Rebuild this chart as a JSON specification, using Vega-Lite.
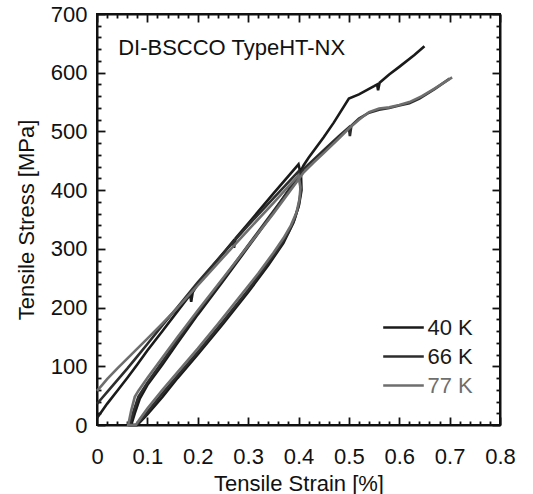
{
  "$schema": "https://vega.github.io/schema/vega-lite/v6.json",
  "width": 403,
  "height": 411,
  "autosize": {"type": "none"},
  "padding": {"left": 97, "top": 14, "right": 33, "bottom": 69},
  "background": "white",
  "config": {
    "font": "Liberation Sans",
    "view": {"stroke": "#111", "strokeWidth": 2},
    "axis": {"grid": false, "ticks": true, "labelFont": "Liberation Sans", "titleFont": "Liberation Sans", "labelFontSize": 22, "titleFontSize": 22, "titleFontWeight": "normal", "labelColor": "#111", "titleColor": "#111", "domainColor": "#111", "domainWidth": 2, "tickColor": "#111", "tickWidth": 1.8, "tickOpacity": 1, "labelFlush": false, "labelOverlap": false}
  },
  "data": {
    "values": [
      {"T": "40 K", "i": 1, "strain": 0, "stress": 12},
      {"T": "40 K", "i": 2, "strain": 0.01, "stress": 24},
      {"T": "40 K", "i": 3, "strain": 0.02, "stress": 36},
      {"T": "40 K", "i": 4, "strain": 0.04, "stress": 58},
      {"T": "40 K", "i": 5, "strain": 0.06, "stress": 80},
      {"T": "40 K", "i": 6, "strain": 0.08, "stress": 103},
      {"T": "40 K", "i": 7, "strain": 0.1, "stress": 127},
      {"T": "40 K", "i": 8, "strain": 0.13, "stress": 160},
      {"T": "40 K", "i": 9, "strain": 0.16, "stress": 194},
      {"T": "40 K", "i": 10, "strain": 0.185, "stress": 222},
      {"T": "40 K", "i": 11, "strain": 0.187, "stress": 210},
      {"T": "40 K", "i": 12, "strain": 0.19, "stress": 226},
      {"T": "40 K", "i": 13, "strain": 0.2, "stress": 240},
      {"T": "40 K", "i": 14, "strain": 0.25, "stress": 292},
      {"T": "40 K", "i": 15, "strain": 0.27, "stress": 313},
      {"T": "40 K", "i": 16, "strain": 0.272, "stress": 302},
      {"T": "40 K", "i": 17, "strain": 0.275, "stress": 318},
      {"T": "40 K", "i": 18, "strain": 0.3, "stress": 343},
      {"T": "40 K", "i": 19, "strain": 0.35, "stress": 394},
      {"T": "40 K", "i": 20, "strain": 0.4, "stress": 444},
      {"T": "40 K", "i": 21, "strain": 0.405, "stress": 425},
      {"T": "40 K", "i": 22, "strain": 0.406, "stress": 400},
      {"T": "40 K", "i": 23, "strain": 0.401, "stress": 375},
      {"T": "40 K", "i": 24, "strain": 0.39, "stress": 345},
      {"T": "40 K", "i": 25, "strain": 0.37, "stress": 310},
      {"T": "40 K", "i": 26, "strain": 0.34, "stress": 272},
      {"T": "40 K", "i": 27, "strain": 0.3, "stress": 226},
      {"T": "40 K", "i": 28, "strain": 0.25, "stress": 172},
      {"T": "40 K", "i": 29, "strain": 0.2, "stress": 120},
      {"T": "40 K", "i": 30, "strain": 0.16, "stress": 80},
      {"T": "40 K", "i": 31, "strain": 0.13, "stress": 48},
      {"T": "40 K", "i": 32, "strain": 0.1, "stress": 18},
      {"T": "40 K", "i": 33, "strain": 0.08, "stress": 0},
      {"T": "40 K", "i": 34, "strain": 0.068, "stress": 0},
      {"T": "40 K", "i": 35, "strain": 0.075, "stress": 20},
      {"T": "40 K", "i": 36, "strain": 0.085, "stress": 45},
      {"T": "40 K", "i": 37, "strain": 0.1, "stress": 68},
      {"T": "40 K", "i": 38, "strain": 0.13, "stress": 103},
      {"T": "40 K", "i": 39, "strain": 0.16, "stress": 140},
      {"T": "40 K", "i": 40, "strain": 0.2, "stress": 188},
      {"T": "40 K", "i": 41, "strain": 0.25, "stress": 245},
      {"T": "40 K", "i": 42, "strain": 0.3, "stress": 303},
      {"T": "40 K", "i": 43, "strain": 0.35, "stress": 362},
      {"T": "40 K", "i": 44, "strain": 0.4, "stress": 425},
      {"T": "40 K", "i": 45, "strain": 0.41, "stress": 442},
      {"T": "40 K", "i": 46, "strain": 0.42, "stress": 455},
      {"T": "40 K", "i": 47, "strain": 0.45, "stress": 490},
      {"T": "40 K", "i": 48, "strain": 0.47, "stress": 515},
      {"T": "40 K", "i": 49, "strain": 0.5, "stress": 556},
      {"T": "40 K", "i": 50, "strain": 0.52, "stress": 563},
      {"T": "40 K", "i": 51, "strain": 0.55, "stress": 577},
      {"T": "40 K", "i": 52, "strain": 0.556, "stress": 580},
      {"T": "40 K", "i": 53, "strain": 0.558, "stress": 570},
      {"T": "40 K", "i": 54, "strain": 0.561, "stress": 583},
      {"T": "40 K", "i": 55, "strain": 0.58, "stress": 597},
      {"T": "40 K", "i": 56, "strain": 0.6, "stress": 610},
      {"T": "40 K", "i": 57, "strain": 0.63, "stress": 630},
      {"T": "40 K", "i": 58, "strain": 0.65, "stress": 645},

      {"T": "66 K", "i": 1, "strain": 0, "stress": 36},
      {"T": "66 K", "i": 2, "strain": 0.01, "stress": 46},
      {"T": "66 K", "i": 3, "strain": 0.02, "stress": 56},
      {"T": "66 K", "i": 4, "strain": 0.04, "stress": 76},
      {"T": "66 K", "i": 5, "strain": 0.06, "stress": 96},
      {"T": "66 K", "i": 6, "strain": 0.08, "stress": 117},
      {"T": "66 K", "i": 7, "strain": 0.1, "stress": 138},
      {"T": "66 K", "i": 8, "strain": 0.13, "stress": 170},
      {"T": "66 K", "i": 9, "strain": 0.16, "stress": 201},
      {"T": "66 K", "i": 10, "strain": 0.2, "stress": 243},
      {"T": "66 K", "i": 11, "strain": 0.25, "stress": 292},
      {"T": "66 K", "i": 12, "strain": 0.3, "stress": 340},
      {"T": "66 K", "i": 13, "strain": 0.35, "stress": 386},
      {"T": "66 K", "i": 14, "strain": 0.4, "stress": 432},
      {"T": "66 K", "i": 15, "strain": 0.403, "stress": 415},
      {"T": "66 K", "i": 16, "strain": 0.404, "stress": 395},
      {"T": "66 K", "i": 17, "strain": 0.4, "stress": 372},
      {"T": "66 K", "i": 18, "strain": 0.392, "stress": 350},
      {"T": "66 K", "i": 19, "strain": 0.38, "stress": 328},
      {"T": "66 K", "i": 20, "strain": 0.36, "stress": 300},
      {"T": "66 K", "i": 21, "strain": 0.33, "stress": 265},
      {"T": "66 K", "i": 22, "strain": 0.3, "stress": 230},
      {"T": "66 K", "i": 23, "strain": 0.25, "stress": 176},
      {"T": "66 K", "i": 24, "strain": 0.2, "stress": 124},
      {"T": "66 K", "i": 25, "strain": 0.16, "stress": 84},
      {"T": "66 K", "i": 26, "strain": 0.13, "stress": 54},
      {"T": "66 K", "i": 27, "strain": 0.1, "stress": 22},
      {"T": "66 K", "i": 28, "strain": 0.085, "stress": 6},
      {"T": "66 K", "i": 29, "strain": 0.078, "stress": 0},
      {"T": "66 K", "i": 30, "strain": 0.065, "stress": 0},
      {"T": "66 K", "i": 31, "strain": 0.072, "stress": 22},
      {"T": "66 K", "i": 32, "strain": 0.082, "stress": 48},
      {"T": "66 K", "i": 33, "strain": 0.1, "stress": 72},
      {"T": "66 K", "i": 34, "strain": 0.13, "stress": 108},
      {"T": "66 K", "i": 35, "strain": 0.16, "stress": 145},
      {"T": "66 K", "i": 36, "strain": 0.2, "stress": 192},
      {"T": "66 K", "i": 37, "strain": 0.25, "stress": 248},
      {"T": "66 K", "i": 38, "strain": 0.3, "stress": 306},
      {"T": "66 K", "i": 39, "strain": 0.35, "stress": 364},
      {"T": "66 K", "i": 40, "strain": 0.4, "stress": 422},
      {"T": "66 K", "i": 41, "strain": 0.41, "stress": 436},
      {"T": "66 K", "i": 42, "strain": 0.43, "stress": 452},
      {"T": "66 K", "i": 43, "strain": 0.45, "stress": 468},
      {"T": "66 K", "i": 44, "strain": 0.48, "stress": 492},
      {"T": "66 K", "i": 45, "strain": 0.5, "stress": 507},
      {"T": "66 K", "i": 46, "strain": 0.502, "stress": 492},
      {"T": "66 K", "i": 47, "strain": 0.505, "stress": 510},
      {"T": "66 K", "i": 48, "strain": 0.52, "stress": 522},
      {"T": "66 K", "i": 49, "strain": 0.54, "stress": 532},
      {"T": "66 K", "i": 50, "strain": 0.56, "stress": 537},
      {"T": "66 K", "i": 51, "strain": 0.58, "stress": 540},
      {"T": "66 K", "i": 52, "strain": 0.6, "stress": 544},
      {"T": "66 K", "i": 53, "strain": 0.62, "stress": 548},
      {"T": "66 K", "i": 54, "strain": 0.64, "stress": 556},
      {"T": "66 K", "i": 55, "strain": 0.67, "stress": 572},
      {"T": "66 K", "i": 56, "strain": 0.7, "stress": 590},

      {"T": "77 K", "i": 1, "strain": 0, "stress": 58},
      {"T": "77 K", "i": 2, "strain": 0.01, "stress": 68},
      {"T": "77 K", "i": 3, "strain": 0.02, "stress": 78},
      {"T": "77 K", "i": 4, "strain": 0.04, "stress": 96},
      {"T": "77 K", "i": 5, "strain": 0.06, "stress": 113},
      {"T": "77 K", "i": 6, "strain": 0.08, "stress": 130},
      {"T": "77 K", "i": 7, "strain": 0.1, "stress": 147},
      {"T": "77 K", "i": 8, "strain": 0.13, "stress": 173},
      {"T": "77 K", "i": 9, "strain": 0.16, "stress": 200},
      {"T": "77 K", "i": 10, "strain": 0.2, "stress": 238},
      {"T": "77 K", "i": 11, "strain": 0.25, "stress": 285},
      {"T": "77 K", "i": 12, "strain": 0.3, "stress": 332},
      {"T": "77 K", "i": 13, "strain": 0.35, "stress": 378},
      {"T": "77 K", "i": 14, "strain": 0.4, "stress": 425},
      {"T": "77 K", "i": 15, "strain": 0.404, "stress": 405},
      {"T": "77 K", "i": 16, "strain": 0.402, "stress": 385},
      {"T": "77 K", "i": 17, "strain": 0.396, "stress": 362},
      {"T": "77 K", "i": 18, "strain": 0.385, "stress": 340},
      {"T": "77 K", "i": 19, "strain": 0.37, "stress": 318},
      {"T": "77 K", "i": 20, "strain": 0.35, "stress": 293},
      {"T": "77 K", "i": 21, "strain": 0.32, "stress": 258},
      {"T": "77 K", "i": 22, "strain": 0.28, "stress": 215},
      {"T": "77 K", "i": 23, "strain": 0.24, "stress": 172},
      {"T": "77 K", "i": 24, "strain": 0.2, "stress": 130},
      {"T": "77 K", "i": 25, "strain": 0.16, "stress": 90},
      {"T": "77 K", "i": 26, "strain": 0.13, "stress": 60},
      {"T": "77 K", "i": 27, "strain": 0.1, "stress": 28},
      {"T": "77 K", "i": 28, "strain": 0.085, "stress": 10},
      {"T": "77 K", "i": 29, "strain": 0.077, "stress": 0},
      {"T": "77 K", "i": 30, "strain": 0.062, "stress": 0},
      {"T": "77 K", "i": 31, "strain": 0.068, "stress": 25},
      {"T": "77 K", "i": 32, "strain": 0.075, "stress": 48},
      {"T": "77 K", "i": 33, "strain": 0.082, "stress": 58},
      {"T": "77 K", "i": 34, "strain": 0.1, "stress": 80},
      {"T": "77 K", "i": 35, "strain": 0.13, "stress": 115},
      {"T": "77 K", "i": 36, "strain": 0.16, "stress": 150},
      {"T": "77 K", "i": 37, "strain": 0.2, "stress": 195},
      {"T": "77 K", "i": 38, "strain": 0.25, "stress": 250},
      {"T": "77 K", "i": 39, "strain": 0.3, "stress": 305},
      {"T": "77 K", "i": 40, "strain": 0.35, "stress": 360},
      {"T": "77 K", "i": 41, "strain": 0.4, "stress": 418},
      {"T": "77 K", "i": 42, "strain": 0.41, "stress": 430},
      {"T": "77 K", "i": 43, "strain": 0.43, "stress": 447},
      {"T": "77 K", "i": 44, "strain": 0.45, "stress": 463},
      {"T": "77 K", "i": 45, "strain": 0.48, "stress": 488},
      {"T": "77 K", "i": 46, "strain": 0.5, "stress": 505},
      {"T": "77 K", "i": 47, "strain": 0.52, "stress": 520},
      {"T": "77 K", "i": 48, "strain": 0.54, "stress": 533},
      {"T": "77 K", "i": 49, "strain": 0.56, "stress": 539},
      {"T": "77 K", "i": 50, "strain": 0.58, "stress": 541},
      {"T": "77 K", "i": 51, "strain": 0.6, "stress": 545},
      {"T": "77 K", "i": 52, "strain": 0.62, "stress": 550},
      {"T": "77 K", "i": 53, "strain": 0.645, "stress": 560},
      {"T": "77 K", "i": 54, "strain": 0.67, "stress": 573},
      {"T": "77 K", "i": 55, "strain": 0.705, "stress": 592}
    ]
  },
  "layer": [
    {
      "mark": {"type": "line", "strokeWidth": 2.6, "interpolate": "linear"},
      "encoding": {
        "x": {
          "field": "strain", "type": "quantitative",
          "scale": {"domain": [0, 0.8], "nice": false, "zero": false},
          "axis": {
            "orient": "bottom",
            "title": "Tensile Strain [%]",
            "values": [0,0.02,0.04,0.06,0.08,0.1,0.12,0.14,0.16,0.18,0.2,0.22,0.24,0.26,0.28,0.3,0.32,0.34,0.36,0.38,0.4,0.42,0.44,0.46,0.48,0.5,0.52,0.54,0.56,0.58,0.6,0.62,0.64,0.66,0.68,0.7,0.72,0.74,0.76,0.78,0.8],
            "tickSize": -8,
            "tickDash": {"condition": {"test": "abs(datum.value*10 - round(datum.value*10)) < 0.000001", "value": [20, 0]}, "value": [4, 20]},
            "labelExpr": "abs(datum.value*10 - round(datum.value*10)) < 0.000001 ? format(datum.value, '~g') : ''",
            "labelPadding": 29,
            "titleX": 201.5, "titleY": 65, "titleBaseline": "alphabetic", "titleAlign": "center"
          }
        },
        "y": {
          "field": "stress", "type": "quantitative",
          "scale": {"domain": [0, 700], "nice": false},
          "axis": {
            "orient": "left",
            "title": "Tensile Stress [MPa]",
            "values": [0,20,40,60,80,100,120,140,160,180,200,220,240,260,280,300,320,340,360,380,400,420,440,460,480,500,520,540,560,580,600,620,640,660,680,700],
            "tickSize": -8,
            "tickDash": {"condition": {"test": "datum.value % 100 == 0", "value": [20, 0]}, "value": [4, 20]},
            "labelExpr": "datum.value % 100 == 0 ? format(datum.value, 'd') : ''",
            "labelPadding": 18,
            "titleX": -64, "titleY": 205.5, "titleBaseline": "alphabetic", "titleAlign": "center", "titleAngle": -90
          }
        },
        "color": {
          "field": "T", "type": "nominal",
          "scale": {"domain": ["40 K", "66 K", "77 K"], "range": ["#1a1a1a", "#2d2d2d", "#6e6e6e"]},
          "legend": {
            "orient": "none", "legendX": 291, "legendY": 298,
            "title": null, "symbolType": "M-1.45,0H1.45", "symbolSize": 784, "symbolStrokeWidth": 2.6,
            "labelFontSize": 22, "labelFont": "Liberation Sans", "labelOffset": 8.5, "rowPadding": 2, "padding": 0,
            "labelColor": "#1a1a1a",
            "encode": {"labels": {"update": {"fill": {"signal": "datum.label == '77 K' ? '#6e6e6e' : '#1a1a1a'"}}}}
          }
        },
        "order": {"field": "i", "type": "quantitative"}
      }
    },
    {
      "data": {"values": [{"note": "DI-BSCCO TypeHT-NX"}]},
      "mark": {"type": "text", "fontSize": 22, "font": "Liberation Sans", "align": "left", "baseline": "alphabetic", "color": "#111"},
      "encoding": {
        "x": {
          "datum": 0.042, "type": "quantitative",
          "axis": {
            "orient": "top", "title": null, "labels": false,
            "values": [0,0.02,0.04,0.06,0.08,0.1,0.12,0.14,0.16,0.18,0.2,0.22,0.24,0.26,0.28,0.3,0.32,0.34,0.36,0.38,0.4,0.42,0.44,0.46,0.48,0.5,0.52,0.54,0.56,0.58,0.6,0.62,0.64,0.66,0.68,0.7,0.72,0.74,0.76,0.78,0.8],
            "tickSize": -8,
            "tickDash": {"condition": {"test": "abs(datum.value*10 - round(datum.value*10)) < 0.000001", "value": [20, 0]}, "value": [4, 20]}
          }
        },
        "y": {
          "datum": 630, "type": "quantitative",
          "axis": {
            "orient": "right", "title": null, "labels": false,
            "values": [0,20,40,60,80,100,120,140,160,180,200,220,240,260,280,300,320,340,360,380,400,420,440,460,480,500,520,540,560,580,600,620,640,660,680,700],
            "tickSize": -8,
            "tickDash": {"condition": {"test": "datum.value % 100 == 0", "value": [20, 0]}, "value": [4, 20]}
          }
        },
        "text": {"field": "note", "type": "nominal"}
      }
    }
  ],
  "resolve": {"axis": {"x": "independent", "y": "independent"}}
}
